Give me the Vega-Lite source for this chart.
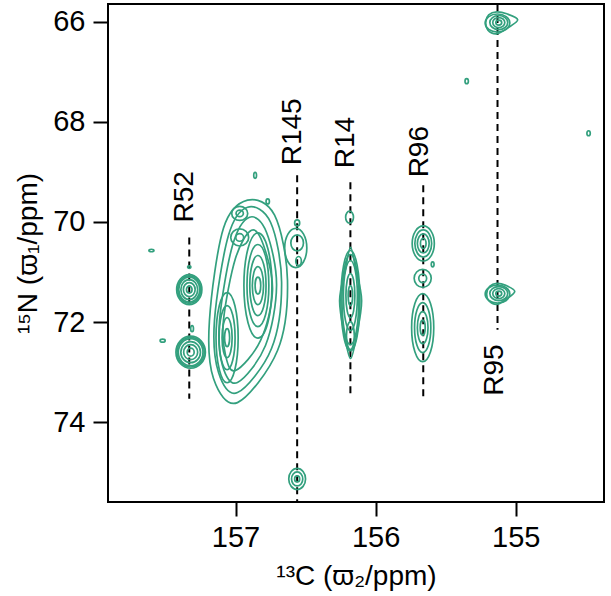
{
"$schema": "https://vega.github.io/schema/vega-lite/v6.json",
"width": 496, "height": 498,
"autosize": "none",
"padding": {"left": 108, "top": 4, "right": 7, "bottom": 94},
"background": "white",
"config": {"view": {"stroke": "black", "strokeWidth": 2}, "font": "Liberation Sans"},
"datasets": {
"ell": [
{"c":"a1","o":1,"x":157.33,"y":71.05},{"c":"a1","o":2,"x":157.24,"y":71.35},{"c":"a1","o":3,"x":157.33,"y":71.65},{"c":"a1","o":4,"x":157.42,"y":71.35},
{"c":"a6","o":1,"x":157.33,"y":71.075},{"c":"a6","o":2,"x":157.248,"y":71.35},{"c":"a6","o":3,"x":157.33,"y":71.625},{"c":"a6","o":4,"x":157.412,"y":71.35},
{"c":"a2","o":1,"x":157.33,"y":71.10},{"c":"a2","o":2,"x":157.255,"y":71.35},{"c":"a2","o":3,"x":157.33,"y":71.60},{"c":"a2","o":4,"x":157.405,"y":71.35},
{"c":"a3","o":1,"x":157.33,"y":71.15},{"c":"a3","o":2,"x":157.27,"y":71.35},{"c":"a3","o":3,"x":157.33,"y":71.55},{"c":"a3","o":4,"x":157.39,"y":71.35},
{"c":"a4","o":1,"x":157.33,"y":71.21},{"c":"a4","o":2,"x":157.288,"y":71.35},{"c":"a4","o":3,"x":157.33,"y":71.49},{"c":"a4","o":4,"x":157.372,"y":71.35},
{"c":"a5","o":1,"x":157.33,"y":71.28},{"c":"a5","o":2,"x":157.31,"y":71.35},{"c":"a5","o":3,"x":157.33,"y":71.42},{"c":"a5","o":4,"x":157.35,"y":71.35},
{"c":"b1","o":1,"x":157.32,"y":72.28},{"c":"b1","o":2,"x":157.215,"y":72.60},{"c":"b1","o":3,"x":157.32,"y":72.92},{"c":"b1","o":4,"x":157.425,"y":72.60},
{"c":"b6","o":1,"x":157.32,"y":72.305},{"c":"b6","o":2,"x":157.223,"y":72.60},{"c":"b6","o":3,"x":157.32,"y":72.895},{"c":"b6","o":4,"x":157.417,"y":72.60},
{"c":"b2","o":1,"x":157.32,"y":72.33},{"c":"b2","o":2,"x":157.232,"y":72.60},{"c":"b2","o":3,"x":157.32,"y":72.87},{"c":"b2","o":4,"x":157.408,"y":72.60},
{"c":"b3","o":1,"x":157.32,"y":72.39},{"c":"b3","o":2,"x":157.25,"y":72.60},{"c":"b3","o":3,"x":157.32,"y":72.81},{"c":"b3","o":4,"x":157.39,"y":72.60},
{"c":"b4","o":1,"x":157.32,"y":72.45},{"c":"b4","o":2,"x":157.27,"y":72.60},{"c":"b4","o":3,"x":157.32,"y":72.75},{"c":"b4","o":4,"x":157.37,"y":72.60},
{"c":"b5","o":1,"x":157.32,"y":72.52},{"c":"b5","o":2,"x":157.295,"y":72.60},{"c":"b5","o":3,"x":157.32,"y":72.68},{"c":"b5","o":4,"x":157.345,"y":72.60},
{"c":"c1","o":1,"x":156.84,"y":70.22},{"c":"c1","o":2,"x":156.74,"y":71.27},{"c":"c1","o":3,"x":156.84,"y":72.32},{"c":"c1","o":4,"x":156.94,"y":71.27},
{"c":"c2","o":1,"x":156.84,"y":70.45},{"c":"c2","o":2,"x":156.762,"y":71.27},{"c":"c2","o":3,"x":156.84,"y":72.09},{"c":"c2","o":4,"x":156.918,"y":71.27},
{"c":"c3","o":1,"x":156.84,"y":70.67},{"c":"c3","o":2,"x":156.782,"y":71.27},{"c":"c3","o":3,"x":156.84,"y":71.87},{"c":"c3","o":4,"x":156.898,"y":71.27},
{"c":"c4","o":1,"x":156.84,"y":70.89},{"c":"c4","o":2,"x":156.80,"y":71.27},{"c":"c4","o":3,"x":156.84,"y":71.65},{"c":"c4","o":4,"x":156.88,"y":71.27},
{"c":"c5","o":1,"x":156.84,"y":71.10},{"c":"c5","o":2,"x":156.82,"y":71.27},{"c":"c5","o":3,"x":156.84,"y":71.44},{"c":"c5","o":4,"x":156.86,"y":71.27},
{"c":"d1","o":1,"x":157.06,"y":71.41},{"c":"d1","o":2,"x":156.981,"y":72.31},{"c":"d1","o":3,"x":157.06,"y":73.21},{"c":"d1","o":4,"x":157.139,"y":72.31},
{"c":"d2","o":1,"x":157.06,"y":71.67},{"c":"d2","o":2,"x":157.003,"y":72.31},{"c":"d2","o":3,"x":157.06,"y":72.95},{"c":"d2","o":4,"x":157.117,"y":72.31},
{"c":"d3","o":1,"x":157.06,"y":71.91},{"c":"d3","o":2,"x":157.024,"y":72.31},{"c":"d3","o":3,"x":157.06,"y":72.71},{"c":"d3","o":4,"x":157.096,"y":72.31},
{"c":"d4","o":1,"x":157.06,"y":72.13},{"c":"d4","o":2,"x":157.042,"y":72.31},{"c":"d4","o":3,"x":157.06,"y":72.49},{"c":"d4","o":4,"x":157.078,"y":72.31},
{"c":"e1","o":1,"x":156.97,"y":69.69},{"c":"e1","o":2,"x":156.913,"y":69.83},{"c":"e1","o":3,"x":156.97,"y":69.97},{"c":"e1","o":4,"x":157.027,"y":69.83},
{"c":"e2","o":1,"x":156.97,"y":69.765},{"c":"e2","o":2,"x":156.944,"y":69.83},{"c":"e2","o":3,"x":156.97,"y":69.895},{"c":"e2","o":4,"x":156.996,"y":69.83},
{"c":"e3","o":1,"x":156.97,"y":70.14},{"c":"e3","o":2,"x":156.906,"y":70.31},{"c":"e3","o":3,"x":156.97,"y":70.48},{"c":"e3","o":4,"x":157.034,"y":70.31},
{"c":"e4","o":1,"x":156.97,"y":70.235},{"c":"e4","o":2,"x":156.942,"y":70.31},{"c":"e4","o":3,"x":156.97,"y":70.385},{"c":"e4","o":4,"x":156.998,"y":70.31},
{"c":"f1","o":1,"x":156.57,"y":70.13},{"c":"f1","o":2,"x":156.491,"y":70.52},{"c":"f1","o":3,"x":156.57,"y":70.91},{"c":"f1","o":4,"x":156.649,"y":70.52},
{"c":"f2","o":1,"x":156.56,"y":70.26},{"c":"f2","o":2,"x":156.515,"y":70.42},{"c":"f2","o":3,"x":156.56,"y":70.58},{"c":"f2","o":4,"x":156.605,"y":70.42},
{"c":"f3","o":1,"x":156.55,"y":70.69},{"c":"f3","o":2,"x":156.53,"y":70.78},{"c":"f3","o":3,"x":156.55,"y":70.87},{"c":"f3","o":4,"x":156.57,"y":70.78},
{"c":"f4","o":1,"x":156.56,"y":69.96},{"c":"f4","o":2,"x":156.542,"y":70.02},{"c":"f4","o":3,"x":156.56,"y":70.08},{"c":"f4","o":4,"x":156.578,"y":70.02},
{"c":"g1","o":1,"x":156.56,"y":74.92},{"c":"g1","o":2,"x":156.50,"y":75.13},{"c":"g1","o":3,"x":156.56,"y":75.34},{"c":"g1","o":4,"x":156.62,"y":75.13},
{"c":"g2","o":1,"x":156.56,"y":74.99},{"c":"g2","o":2,"x":156.52,"y":75.13},{"c":"g2","o":3,"x":156.56,"y":75.27},{"c":"g2","o":4,"x":156.60,"y":75.13},
{"c":"g3","o":1,"x":156.56,"y":75.07},{"c":"g3","o":2,"x":156.542,"y":75.13},{"c":"g3","o":3,"x":156.56,"y":75.19},{"c":"g3","o":4,"x":156.578,"y":75.13},
{"c":"h1","o":1,"x":156.18,"y":70.77},{"c":"h1","o":2,"x":156.13,"y":71.47},{"c":"h1","o":3,"x":156.18,"y":72.17},{"c":"h1","o":4,"x":156.23,"y":71.47},
{"c":"h2","o":1,"x":156.18,"y":71.03},{"c":"h2","o":2,"x":156.148,"y":71.47},{"c":"h2","o":3,"x":156.18,"y":71.91},{"c":"h2","o":4,"x":156.212,"y":71.47},
{"c":"h3","o":1,"x":156.18,"y":71.27},{"c":"h3","o":2,"x":156.164,"y":71.47},{"c":"h3","o":3,"x":156.18,"y":71.67},{"c":"h3","o":4,"x":156.196,"y":71.47},
{"c":"h4","o":1,"x":156.18,"y":71.99},{"c":"h4","o":2,"x":156.152,"y":72.27},{"c":"h4","o":3,"x":156.18,"y":72.55},{"c":"h4","o":4,"x":156.208,"y":72.27},
{"c":"h5","o":1,"x":156.186,"y":69.786},{"c":"h5","o":2,"x":156.158,"y":69.906},{"c":"h5","o":3,"x":156.186,"y":70.026},{"c":"h5","o":4,"x":156.214,"y":69.906},
{"c":"h6","o":1,"x":156.18,"y":70.57},{"c":"h6","o":2,"x":156.112,"y":71.57},{"c":"h6","o":3,"x":156.18,"y":72.57},{"c":"h6","o":4,"x":156.248,"y":71.57},
{"c":"h7","o":1,"x":156.18,"y":70.65},{"c":"h7","o":2,"x":156.12,"y":71.55},{"c":"h7","o":3,"x":156.18,"y":72.45},{"c":"h7","o":4,"x":156.24,"y":71.55},
{"c":"i1","o":1,"x":155.66,"y":70.08},{"c":"i1","o":2,"x":155.581,"y":70.43},{"c":"i1","o":3,"x":155.66,"y":70.78},{"c":"i1","o":4,"x":155.739,"y":70.43},
{"c":"i2","o":1,"x":155.66,"y":70.16},{"c":"i2","o":2,"x":155.60,"y":70.43},{"c":"i2","o":3,"x":155.66,"y":70.70},{"c":"i2","o":4,"x":155.72,"y":70.43},
{"c":"i3","o":1,"x":155.66,"y":70.24},{"c":"i3","o":2,"x":155.618,"y":70.43},{"c":"i3","o":3,"x":155.66,"y":70.62},{"c":"i3","o":4,"x":155.702,"y":70.43},
{"c":"i4","o":1,"x":155.66,"y":70.33},{"c":"i4","o":2,"x":155.64,"y":70.43},{"c":"i4","o":3,"x":155.66,"y":70.53},{"c":"i4","o":4,"x":155.68,"y":70.43},
{"c":"i5","o":1,"x":155.593,"y":70.796},{"c":"i5","o":2,"x":155.583,"y":70.846},{"c":"i5","o":3,"x":155.593,"y":70.896},{"c":"i5","o":4,"x":155.603,"y":70.846},
{"c":"j1","o":1,"x":155.664,"y":70.946},{"c":"j1","o":2,"x":155.603,"y":71.126},{"c":"j1","o":3,"x":155.664,"y":71.306},{"c":"j1","o":4,"x":155.725,"y":71.126},
{"c":"j2","o":1,"x":155.664,"y":71.041},{"c":"j2","o":2,"x":155.636,"y":71.126},{"c":"j2","o":3,"x":155.664,"y":71.211},{"c":"j2","o":4,"x":155.692,"y":71.126},
{"c":"k1","o":1,"x":155.664,"y":71.43},{"c":"k1","o":2,"x":155.585,"y":72.11},{"c":"k1","o":3,"x":155.664,"y":72.79},{"c":"k1","o":4,"x":155.743,"y":72.11},
{"c":"k2","o":1,"x":155.664,"y":71.61},{"c":"k2","o":2,"x":155.606,"y":72.11},{"c":"k2","o":3,"x":155.664,"y":72.61},{"c":"k2","o":4,"x":155.722,"y":72.11},
{"c":"k3","o":1,"x":155.664,"y":71.79},{"c":"k3","o":2,"x":155.626,"y":72.11},{"c":"k3","o":3,"x":155.664,"y":72.43},{"c":"k3","o":4,"x":155.702,"y":72.11},
{"c":"k4","o":1,"x":155.664,"y":71.96},{"c":"k4","o":2,"x":155.646,"y":72.11},{"c":"k4","o":3,"x":155.664,"y":72.26},{"c":"k4","o":4,"x":155.682,"y":72.11},
{"c":"m1","o":1,"x":155.121,"y":65.88},{"c":"m1","o":2,"x":155.057,"y":66.02},{"c":"m1","o":3,"x":155.121,"y":66.16},{"c":"m1","o":4,"x":155.185,"y":66.02},
{"c":"m2","o":1,"x":155.121,"y":65.92},{"c":"m2","o":2,"x":155.078,"y":66.02},{"c":"m2","o":3,"x":155.121,"y":66.12},{"c":"m2","o":4,"x":155.164,"y":66.02},
{"c":"m3","o":1,"x":155.121,"y":65.97},{"c":"m3","o":2,"x":155.10,"y":66.02},{"c":"m3","o":3,"x":155.121,"y":66.07},{"c":"m3","o":4,"x":155.142,"y":66.02},
{"c":"m4","o":1,"x":155.13,"y":65.85},{"c":"m4","o":2,"x":155.042,"y":66.03},{"c":"m4","o":3,"x":155.13,"y":66.21},{"c":"m4","o":4,"x":155.218,"y":66.03},
{"c":"n1","o":1,"x":155.121,"y":71.29},{"c":"n1","o":2,"x":155.057,"y":71.43},{"c":"n1","o":3,"x":155.121,"y":71.57},{"c":"n1","o":4,"x":155.185,"y":71.43},
{"c":"n2","o":1,"x":155.121,"y":71.33},{"c":"n2","o":2,"x":155.078,"y":71.43},{"c":"n2","o":3,"x":155.121,"y":71.53},{"c":"n2","o":4,"x":155.164,"y":71.43},
{"c":"n3","o":1,"x":155.121,"y":71.38},{"c":"n3","o":2,"x":155.10,"y":71.43},{"c":"n3","o":3,"x":155.121,"y":71.48},{"c":"n3","o":4,"x":155.142,"y":71.43},
{"c":"n4","o":1,"x":155.13,"y":71.26},{"c":"n4","o":2,"x":155.042,"y":71.44},{"c":"n4","o":3,"x":155.13,"y":71.62},{"c":"n4","o":4,"x":155.218,"y":71.44},
{"c":"p1","o":1,"x":155.35,"y":67.14},{"c":"p1","o":2,"x":155.338,"y":67.19},{"c":"p1","o":3,"x":155.35,"y":67.24},{"c":"p1","o":4,"x":155.362,"y":67.19},
{"c":"p2","o":1,"x":154.48,"y":68.18},{"c":"p2","o":2,"x":154.468,"y":68.23},{"c":"p2","o":3,"x":154.48,"y":68.28},{"c":"p2","o":4,"x":154.492,"y":68.23},
{"c":"p3","o":1,"x":157.60,"y":70.545},{"c":"p3","o":2,"x":157.582,"y":70.57},{"c":"p3","o":3,"x":157.60,"y":70.595},{"c":"p3","o":4,"x":157.618,"y":70.57},
{"c":"p4","o":1,"x":157.52,"y":72.34},{"c":"p4","o":2,"x":157.502,"y":72.37},{"c":"p4","o":3,"x":157.52,"y":72.40},{"c":"p4","o":4,"x":157.538,"y":72.37},
{"c":"p5","o":1,"x":156.86,"y":69.01},{"c":"p5","o":2,"x":156.85,"y":69.07},{"c":"p5","o":3,"x":156.86,"y":69.13},{"c":"p5","o":4,"x":156.87,"y":69.07},
{"c":"p6","o":1,"x":156.77,"y":69.54},{"c":"p6","o":2,"x":156.758,"y":69.59},{"c":"p6","o":3,"x":156.77,"y":69.64},{"c":"p6","o":4,"x":156.782,"y":69.59},
{"c":"p7","o":1,"x":157.33,"y":70.875},{"c":"p7","o":2,"x":157.318,"y":70.90},{"c":"p7","o":3,"x":157.33,"y":70.925},{"c":"p7","o":4,"x":157.342,"y":70.90},
{"c":"p8","o":1,"x":157.31,"y":72.07},{"c":"p8","o":2,"x":157.30,"y":72.13},{"c":"p8","o":3,"x":157.31,"y":72.19},{"c":"p8","o":4,"x":157.32,"y":72.13}
],
"free": [
{"c":"q1","o":1,"x":156.914,"y":69.566},{"c":"q1","o":2,"x":156.721,"y":69.866},{"c":"q1","o":3,"x":156.629,"y":71.166},{"c":"q1","o":4,"x":156.700,"y":72.566},{"c":"q1","o":5,"x":156.986,"y":73.606},{"c":"q1","o":6,"x":157.157,"y":73.126},{"c":"q1","o":7,"x":157.186,"y":71.966},{"c":"q1","o":8,"x":157.086,"y":70.126},
{"c":"q2","o":1,"x":156.914,"y":69.706},{"c":"q2","o":2,"x":156.750,"y":70.006},{"c":"q2","o":3,"x":156.671,"y":71.206},{"c":"q2","o":4,"x":156.743,"y":72.526},{"c":"q2","o":5,"x":156.986,"y":73.406},{"c":"q2","o":6,"x":157.121,"y":73.006},{"c":"q2","o":7,"x":157.150,"y":71.966},{"c":"q2","o":8,"x":157.050,"y":70.266},
{"c":"q3","o":1,"x":156.900,"y":69.906},{"c":"q3","o":2,"x":156.779,"y":70.206},{"c":"q3","o":3,"x":156.707,"y":71.266},{"c":"q3","o":4,"x":156.786,"y":72.466},{"c":"q3","o":5,"x":156.986,"y":73.206},{"c":"q3","o":6,"x":157.093,"y":72.866},{"c":"q3","o":7,"x":157.114,"y":71.966},{"c":"q3","o":8,"x":157.021,"y":70.466},
{"c":"q4","o":1,"x":156.886,"y":70.166},{"c":"q4","o":2,"x":156.800,"y":70.466},{"c":"q4","o":3,"x":156.736,"y":71.366},{"c":"q4","o":4,"x":156.821,"y":72.366},{"c":"q4","o":5,"x":157.000,"y":72.966},{"c":"q4","o":6,"x":157.071,"y":72.666},{"c":"q4","o":7,"x":157.086,"y":71.966},{"c":"q4","o":8,"x":157.000,"y":70.726},
{"c":"h0","o":1,"x":156.179,"y":70.506},{"c":"h0","o":2,"x":156.143,"y":70.926},{"c":"h0","o":3,"x":156.100,"y":71.566},{"c":"h0","o":4,"x":156.136,"y":72.266},{"c":"h0","o":5,"x":156.179,"y":72.726},{"c":"h0","o":6,"x":156.221,"y":72.266},{"c":"h0","o":7,"x":156.257,"y":71.566},{"c":"h0","o":8,"x":156.214,"y":70.926},
{"c":"m0","o":1,"x":155.136,"y":65.806},{"c":"m0","o":2,"x":155.064,"y":65.846},{"c":"m0","o":3,"x":154.986,"y":65.966},{"c":"m0","o":4,"x":155.057,"y":66.126},{"c":"m0","o":5,"x":155.136,"y":66.246},{"c":"m0","o":6,"x":155.200,"y":66.166},{"c":"m0","o":7,"x":155.214,"y":66.006},{"c":"m0","o":8,"x":155.193,"y":65.866},
{"c":"n0","o":1,"x":155.136,"y":71.226},{"c":"n0","o":2,"x":155.071,"y":71.266},{"c":"n0","o":3,"x":155.007,"y":71.386},{"c":"n0","o":4,"x":155.071,"y":71.546},{"c":"n0","o":5,"x":155.136,"y":71.646},{"c":"n0","o":6,"x":155.193,"y":71.566},{"c":"n0","o":7,"x":155.207,"y":71.426},{"c":"n0","o":8,"x":155.186,"y":71.286}
],
"rules": [
{"lab":"R52","x":157.33,"y":70.31,"y2":73.53},
{"lab":"R145","x":156.56,"y":69.07,"y2":75.59},
{"lab":"R14","x":156.18,"y":69.21,"y2":73.51},
{"lab":"R96","x":155.66,"y":69.27,"y2":73.51},
{"lab":"R95","x":155.13,"y":65.65,"y2":72.15}
],
"labels": [
{"lab":"R52","x":157.36,"y":70.01},
{"lab":"R145","x":156.59,"y":68.87},
{"lab":"R14","x":156.21,"y":68.93},
{"lab":"R96","x":155.68,"y":69.11},
{"lab":"R95","x":155.15,"y":73.47}
]
},
"encoding": {
"x": {"field": "x", "type": "quantitative",
 "scale": {"domain": [154.37, 157.91], "reverse": true, "nice": false, "zero": false},
 "axis": {"values": [157, 156, 155], "format": "d", "title": "¹³C (ϖ₂/ppm)", "grid": false, "domain": false,
  "ticks": true, "tickSize": 14, "tickWidth": 2, "tickColor": "black",
  "labelFontSize": 29, "labelFont": "Liberation Sans", "labelColor": "black", "labelPadding": 7,
  "titleFontSize": 28, "titleFont": "Liberation Sans", "titleFontWeight": "normal", "titleColor": "black", "titlePadding": 10}},
"y": {"field": "y", "type": "quantitative",
 "scale": {"domain": [65.65, 75.59], "reverse": true, "nice": false, "zero": false},
 "axis": {"values": [66, 68, 70, 72, 74], "format": "d", "title": "¹⁵N (ϖ₁/ppm)", "grid": false, "domain": false,
  "ticks": true, "tickSize": 15, "tickWidth": 2, "tickColor": "black",
  "labelFontSize": 29, "labelFont": "Liberation Sans", "labelColor": "black", "labelPadding": 8,
  "titleFontSize": 28, "titleFont": "Liberation Sans", "titleFontWeight": "normal", "titleColor": "black", "titlePadding": 10}}
},
"layer": [
{"data": {"name": "rules"}, "mark": {"type": "rule", "color": "black", "strokeWidth": 2, "strokeDash": [7, 5]},
 "encoding": {"y2": {"field": "y2"}}},
{"data": {"name": "ell"}, "mark": {"type": "line", "interpolate": "cardinal-closed", "tension": -0.65, "color": "#33a07e", "strokeWidth": 1.7},
 "encoding": {"detail": {"field": "c"}, "order": {"field": "o"}}},
{"data": {"name": "free"}, "mark": {"type": "line", "interpolate": "cardinal-closed", "tension": 0, "color": "#33a07e", "strokeWidth": 1.7},
 "encoding": {"detail": {"field": "c"}, "order": {"field": "o"}}},
{"data": {"name": "labels"}, "mark": {"type": "text", "angle": 270, "align": "left", "baseline": "middle", "fontSize": 28, "font": "Liberation Sans", "color": "black"},
 "encoding": {"text": {"field": "lab"}}}
]
}
